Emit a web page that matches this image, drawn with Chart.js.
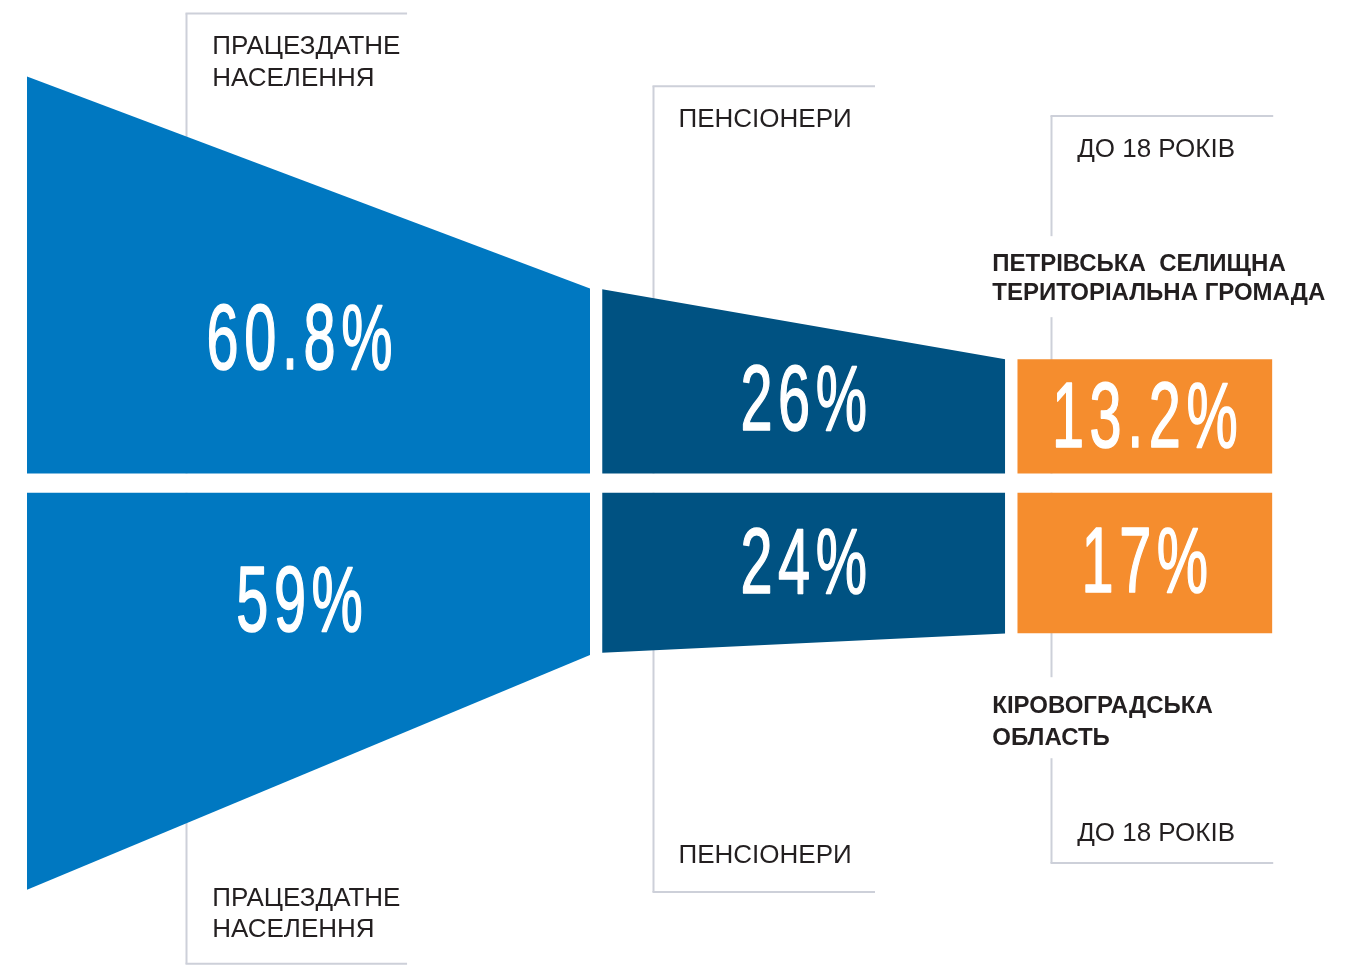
<!DOCTYPE html>
<html lang="uk">
<head>
<meta charset="UTF-8">
<title>Структура населення</title>
<script src="https://cdn.jsdelivr.net/npm/chart.js"></script>
<style>
  html, body { margin: 0; padding: 0; background: #fff; }
  #wrap { width: 1351px; height: 965px; }
</style>
</head>
<body>
<div id="wrap"><canvas id="funnelChart" width="1351" height="965"></canvas></div>
<script>
// Групи населення
const groups = [['ПРАЦЕЗДАТНЕ', 'НАСЕЛЕННЯ'], ['ПЕНСІОНЕРИ'], ['ДО 18 РОКІВ']];
const regionTop = ['ПЕТРІВСЬКА  СЕЛИЩНА', 'ТЕРИТОРІАЛЬНА ГРОМАДА'];
const regionBottom = ['КІРОВОГРАДСЬКА', 'ОБЛАСТЬ'];

// Частка, %
const hromadaShares = [60.8, 26, 13.2];
const oblastShares = [59, 24, 17];

// Висота смуги на початку й у кінці кожного сегмента (ліва межа = 100)
const hromadaStart = [100, 46.4, 28.8];
const hromadaEnd = [46.6, 28.8, 28.8];
const oblastStart = [100, 40.3, 35.4];
const oblastEnd = [40.9, 35.5, 35.4];

// Розмітка
const segWidth = [1.397, 1, 0.633];
const segGap = 0.03;
const halfGap = 2.42;
const colors = ['#0078c1', '#005282', '#f58d2e'];
const lineColor = '#cdd0d9';
const textColor = '#231f20';

const segStart = [];
const segEnd = [];
let pos = 0;
segWidth.forEach(w => {
    segStart.push(pos);
    segEnd.push(pos + w);
    pos += w + segGap;
});

// Скоби з підписами: відступ лінії від початку сегмента, кінець лінії, рівень (у одиницях осі)
const bracketOffset = [0.395, 0.125, 0.084];
const bracketLen = [0.943, 0.677, 0.635];
const bracketTop = [118.3, 100, 92.5];
const bracketBottom = [-121.1, -103, -95.7];
const bottomTextGap = [27, 29, 22];
const numNudgeX = [-9, 0, 0];
const numNudgeTop = [8, -2, -2];
const numNudgeBottom = [-35, -8, -4];

// вузький шрифт для відсотків
const numScale = 0.62;
const numSpacing = 9;

const datasets = [];
segWidth.forEach((w, i) => {
    datasets.push({
        data: [
            { x: segStart[i], y: halfGap + hromadaStart[i] },
            { x: segEnd[i], y: halfGap + hromadaEnd[i] }
        ],
        showLine: true,
        borderWidth: 0,
        pointRadius: 0,
        backgroundColor: colors[i],
        fill: { value: halfGap }
    });
    datasets.push({
        data: [
            { x: segStart[i], y: -halfGap - oblastStart[i] },
            { x: segEnd[i], y: -halfGap - oblastEnd[i] }
        ],
        showLine: true,
        borderWidth: 0,
        pointRadius: 0,
        backgroundColor: colors[i],
        fill: { value: -halfGap }
    });
});

function vline(ctx, x, y1, y2) {
    ctx.beginPath();
    ctx.moveTo(x, y1);
    ctx.lineTo(x, y2);
    ctx.stroke();
}

function regionRows(chart) {
    const y = chart.scales.y;
    const topEdge = y.getPixelForValue(halfGap + hromadaStart[2]);
    const botEdge = y.getPixelForValue(-halfGap - oblastStart[2]);
    return {
        top: [topEdge - 88, topEdge - 59],
        bottom: [botEdge + 80, botEdge + 112]
    };
}

const decorPlugin = {
    id: 'decor',
    beforeDatasetsDraw(chart) {
        const ctx = chart.ctx;
        const x = chart.scales.x;
        const y = chart.scales.y;
        const rows = regionRows(chart);
        ctx.save();
        ctx.strokeStyle = lineColor;
        ctx.lineWidth = 2;
        segWidth.forEach((w, i) => {
            const lx = Math.round(x.getPixelForValue(segStart[i] + bracketOffset[i])) + 0.5;
            const ex = x.getPixelForValue(segStart[i] + bracketLen[i]);
            const ty = y.getPixelForValue(bracketTop[i]);
            const by = y.getPixelForValue(bracketBottom[i]);
            const gTop = y.getPixelForValue(halfGap);
            const gBot = y.getPixelForValue(-halfGap);
            ctx.beginPath();
            ctx.moveTo(lx - 1, ty);
            ctx.lineTo(ex, ty);
            ctx.moveTo(lx - 1, by);
            ctx.lineTo(ex, by);
            ctx.stroke();
            if (i === 2) {
                vline(ctx, lx, ty, rows.top[0] - 35);
                vline(ctx, lx, rows.top[1] + 17, gTop);
                vline(ctx, lx, gBot, rows.bottom[0] - 36);
                vline(ctx, lx, rows.bottom[1] + 13, by);
            } else {
                vline(ctx, lx, ty, gTop);
                vline(ctx, lx, gBot, by);
            }
        });
        ctx.restore();
    },
    afterDatasetsDraw(chart) {
        const ctx = chart.ctx;
        const x = chart.scales.x;
        const y = chart.scales.y;
        ctx.save();

        // Підписи груп
        ctx.fillStyle = textColor;
        ctx.font = '26px "Liberation Sans", Arial, sans-serif';
        ctx.textAlign = 'left';
        ctx.textBaseline = 'alphabetic';
        groups.forEach((lines, i) => {
            const tx = x.getPixelForValue(segStart[i] + bracketOffset[i]) + 26;
            const ty = y.getPixelForValue(bracketTop[i]) + 41;
            lines.forEach((t, k) => ctx.fillText(t, tx, ty + k * 32));
            const by = y.getPixelForValue(bracketBottom[i]) - bottomTextGap[i];
            lines.forEach((t, k) => ctx.fillText(t, tx, by - (lines.length - 1 - k) * 31));
        });

        // Назви територій
        const rows = regionRows(chart);
        const rx = x.getPixelForValue(segStart[2]) - 25;
        ctx.font = 'bold 24px "Liberation Sans", Arial, sans-serif';
        regionTop.forEach((t, k) => ctx.fillText(t, rx, rows.top[k]));
        regionBottom.forEach((t, k) => ctx.fillText(t, rx, rows.bottom[k]));

        // Відсотки
        ctx.fillStyle = '#ffffff';
        ctx.strokeStyle = '#ffffff';
        ctx.lineWidth = 1.6;
        ctx.lineJoin = 'round';
        ctx.font = '93px "Liberation Sans", Arial, sans-serif';
        ctx.letterSpacing = numSpacing + 'px';
        ctx.textAlign = 'center';
        segWidth.forEach((w, i) => {
            const cx = x.getPixelForValue((segStart[i] + segEnd[i]) / 2) + numNudgeX[i];
            const topMid = halfGap + (hromadaStart[i] + hromadaEnd[i]) / 4;
            const botMid = -halfGap - (oblastStart[i] + oblastEnd[i]) / 4;
            const pairs = [
                [hromadaShares[i], y.getPixelForValue(topMid) + numNudgeTop[i]],
                [oblastShares[i], y.getPixelForValue(botMid) + numNudgeBottom[i]]
            ];
            pairs.forEach(([v, cy]) => {
                ctx.save();
                ctx.translate(cx + numSpacing * numScale / 2, cy + 33);
                ctx.scale(numScale, 1);
                ctx.fillText(v + '%', 0, 0);
                ctx.strokeText(v + '%', 0, 0);
                ctx.restore();
            });
        });
        ctx.restore();
    }
};

new Chart(document.getElementById('funnelChart'), {
    type: 'scatter',
    data: { datasets },
    options: {
        responsive: false,
        animation: false,
        layout: { padding: 0 },
        plugins: {
            legend: { display: false },
            tooltip: { enabled: false }
        },
        scales: {
            x: { type: 'linear', display: false, min: -0.067, max: 3.285 },
            y: { type: 'linear', display: false, min: -121.4, max: 121.7 }
        }
    },
    plugins: [decorPlugin]
});
</script>
</body>
</html>
